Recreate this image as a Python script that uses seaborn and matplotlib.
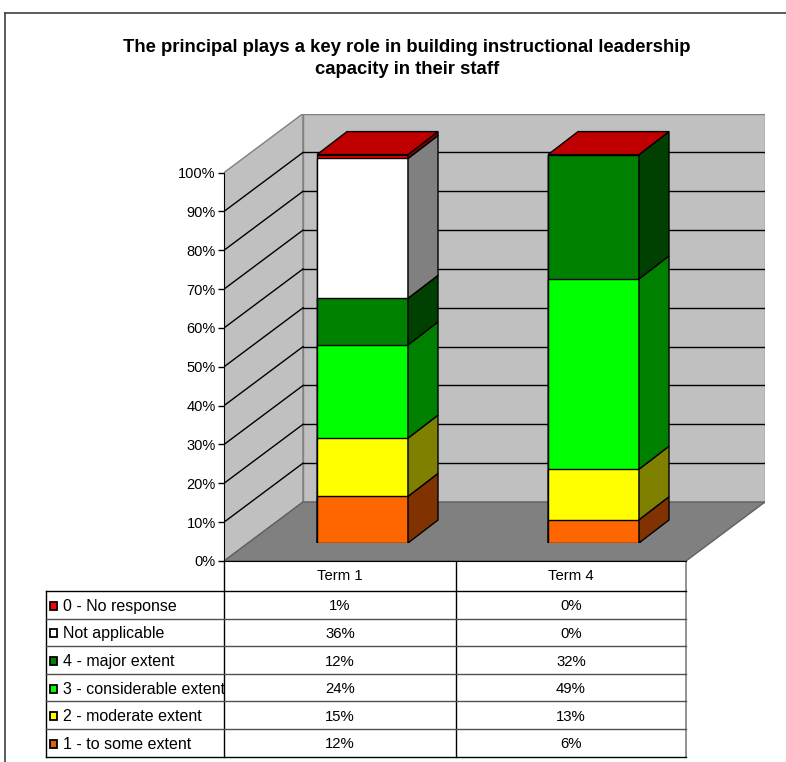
import matplotlib
matplotlib.use('Agg')
import matplotlib.pyplot as plt
from matplotlib.patches import Polygon, Rectangle
from matplotlib.lines import Line2D
import pandas as pd
import seaborn as sns

plt.rcParams['font.family'] = ['Liberation Sans', 'DejaVu Sans']

# Data (series listed from bottom of the stack to the top)
terms = ['Term 1', 'Term 4']
categories = ['1 - to some extent', '2 - moderate extent', '3 - considerable extent',
              '4 - major extent', 'Not applicable', '0 - No response']
term1 = [12, 15, 24, 12, 36, 1]
term4 = [6, 13, 49, 32, 0, 0]
y_ticks = [0, 10, 20, 30, 40, 50, 60, 70, 80, 90, 100]
title = 'The principal plays a key role in building instructional leadership\ncapacity in their staff'

face_colors = ['#ff6600', '#ffff00', '#00ff00', '#008000', '#ffffff', '#ff0000']
side_colors = ['#803300', '#808000', '#008000', '#004000', '#808080', '#800000']
legend_colors = ['#e06010', '#ffff00', '#00ff00', '#008000', '#ffffff', '#ff0000']
top_color = '#c00000'

# long table with cumulative heights for the stacked bars
rows = []
for term, vals in zip(terms, [term1, term4]):
    total = 0
    for cat, v in zip(categories, vals):
        rows.append({'term': term, 'series': cat, 'value': v, 'bottom': total, 'cum': total + v})
        total += v
df = pd.DataFrame(rows)

# layout in pixels
W, H = 786, 762
X0, Y0 = 224, 561          # front-left corner of the floor
CAT, PCT = 231, 3.884      # pixels per category / per percent
ddx, ddy = 79 / CAT, 59 / PCT      # wall depth
bar_w = 91 / CAT
bdx, bdy = 30 / CAT, 23 / PCT      # bar depth
off_x, off_y = 23, 18              # bar plane offset (pixels)

fig = plt.figure(figsize=(W / 100, H / 100), dpi=100)

# full-figure axes for the frame and the data table
tab = fig.add_axes([0, 0, 1, 1])
tab.set_xlim(0, W)
tab.set_ylim(H, 0)
tab.axis('off')
tab.add_line(Line2D([5, W], [13, 13], color='#404040', lw=1.2))
tab.add_line(Line2D([5, 5], [13, H], color='#404040', lw=1.2))

fig.text(407 / W, 1 - 58.5 / H, title, ha='center', va='center', fontsize=13.3,
         fontweight='bold', linespacing=1.38)

# walls and floor
ax = fig.add_axes([X0 / W, (H - Y0) / H, (2 + ddx) * CAT / W, (100 + ddy) * PCT / H])
ax.patch.set_visible(False)
ax.set_xlim(-0.5, 1.5 + ddx)
ax.set_ylim(0, 100 + ddy)
ax.add_patch(Polygon([(-0.5, 0), (-0.5 + ddx, ddy), (-0.5 + ddx, 100 + ddy), (-0.5, 100)],
                     fc='#c0c0c0', ec='#808080', lw=1))
ax.add_patch(Polygon([(-0.5 + ddx, ddy), (1.5 + ddx, ddy), (1.5 + ddx, 100 + ddy), (-0.5 + ddx, 100 + ddy)],
                     fc='#c0c0c0', ec='#808080', lw=1))
ax.add_patch(Polygon([(-0.5, 0), (1.5, 0), (1.5 + ddx, ddy), (-0.5 + ddx, ddy)],
                     fc='#808080', ec='#606060', lw=1))
for v in y_ticks[1:-1]:
    ax.plot([-0.5, -0.5 + ddx], [v, v + ddy], color='black', lw=1)
    ax.plot([-0.5 + ddx, 1.5 + ddx], [v + ddy, v + ddy], color='black', lw=1)
ax.set_yticks(y_ticks)
ax.set_yticklabels([f'{v}%' for v in y_ticks])
ax.tick_params(axis='y', direction='out', length=4.5, width=1, pad=1.5, labelsize=10.5)
ax.set_xticks([])
for s in ['top', 'right']:
    ax.spines[s].set_visible(False)
ax.spines['left'].set_bounds(0, 100)
ax.spines['bottom'].set_bounds(-0.5, 1.5)

# bars (front plane shifted back into the box)
axb = fig.add_axes([(X0 + off_x) / W, (H - Y0 + off_y) / H, (2 + ddx) * CAT / W, (100 + ddy) * PCT / H])
axb.patch.set_visible(False)
for i in range(len(categories) - 1, -1, -1):
    sub = df[df.series == categories[i]]
    sns.barplot(data=sub, x='term', y='cum', color=face_colors[i], saturation=1,
                edgecolor='black', linewidth=1, width=bar_w, errorbar=None, ax=axb)
for j, term in enumerate(terms):
    sub = df[df.term == term].reset_index(drop=True)
    xl, xr = j - bar_w / 2, j + bar_w / 2
    for i, r in sub.iterrows():
        if r.value <= 0:
            continue
        axb.add_patch(Polygon([(xr, r.bottom), (xr + bdx, r.bottom + bdy),
                               (xr + bdx, r.cum + bdy), (xr, r.cum)],
                              fc=side_colors[i], ec='black', lw=1))
    top = sub.cum.max()
    axb.add_patch(Polygon([(xl, top), (xl + bdx, top + bdy), (xr + bdx, top + bdy), (xr, top)],
                          fc=top_color, ec='black', lw=1))
axb.set_xlim(-0.5, 1.5 + ddx)
axb.set_ylim(0, 100 + ddy)
axb.axis('off')

# data table under the chart
col_x = [46, 224, 456, 686]
row_h = 27.6
head_top, body_top = Y0, 591
n = len(categories)
bottom = body_top + n * row_h
for x in col_x[1:3]:
    tab.add_line(Line2D([x, x], [head_top, bottom], color='black', lw=1))
tab.add_line(Line2D([col_x[3], col_x[3]], [head_top, bottom], color='#808080', lw=1.2))
tab.add_line(Line2D([col_x[0], col_x[0]], [body_top, bottom], color='black', lw=1))
for k in range(n + 1):
    y = body_top + k * row_h
    tab.add_line(Line2D([col_x[0], col_x[3]], [y, y], color='black' if k in (0, n) else '#505050', lw=1))
for j, term in enumerate(terms):
    cx = (col_x[j + 1] + col_x[j + 2]) / 2
    tab.text(cx, (head_top + body_top) / 2 + 0.5, term, ha='center', va='center', fontsize=10.7)
for k, i in enumerate(range(n - 1, -1, -1)):
    cy = body_top + k * row_h + row_h / 2 + 1.5
    tab.add_patch(Rectangle((49.5, cy - 4.5), 7.5, 8, fc=legend_colors[i], ec='black', lw=1.3))
    tab.text(63, cy, categories[i], ha='left', va='center', fontsize=11.5)
    for j, vals in enumerate([term1, term4]):
        cx = (col_x[j + 1] + col_x[j + 2]) / 2
        tab.text(cx, cy, f'{vals[i]}%', ha='center', va='center', fontsize=10.7)

fig.savefig('out.png', dpi=100)
